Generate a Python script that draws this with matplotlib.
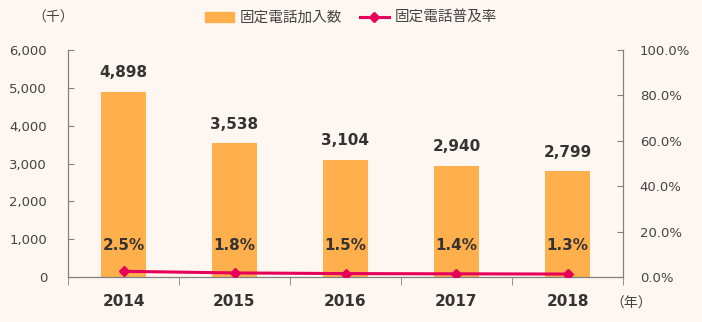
import numpy as np
import matplotlib.pyplot as plt
from matplotlib.lines import Line2D
from matplotlib.patches import Patch

plt.rcParams['font.family'] = ['DejaVu Sans', 'Noto Sans CJK JP']

# 固定電話加入数（千）と普及率（%）
years = ['2014', '2015', '2016', '2017', '2018']
subscribers = [4898, 3538, 3104, 2940, 2799]
rate = [2.5, 1.8, 1.5, 1.4, 1.3]

bg = '#fdf6f1'
bar_color = '#ffaf4b'
line_color = '#e6005a'
text_color = '#333333'
axis_color = '#808080'
jp = ['Noto Sans CJK JP', 'DejaVu Sans']

fig = plt.figure(figsize=(7.02, 3.22), dpi=100, facecolor=bg)
ax = fig.add_axes([68 / 702, 45 / 322, 555 / 702, 227 / 322])
ax.set_facecolor(bg)
x = np.arange(len(years))

ax.bar(x, subscribers, width=0.4, color=bar_color, zorder=2)
ax.set_xlim(-0.5, len(years) - 0.5)
ax.set_ylim(0, 6000)
ax.set_yticks(np.arange(0, 6001, 1000))
ax.set_yticklabels([f'{v:,}' for v in range(0, 6001, 1000)])

# 棒の上に加入数
for xi, v in zip(x, subscribers):
    ax.text(xi, v + 300, f'{v:,}', ha='center', va='bottom',
            fontsize=11, fontweight='bold', color=text_color)

ax2 = ax.twinx()
ax2.plot(x, rate, color=line_color, lw=2.2, marker='D', ms=5, zorder=3)
ax2.set_ylim(0, 100)
ax2.set_yticks(np.arange(0, 101, 20))
ax2.set_yticklabels([f'{v:.1f}%' for v in range(0, 101, 20)])

# 普及率のラベル
for xi, r in zip(x, rate):
    ax.text(xi, 830, f'{r}%', ha='center', va='center',
            fontsize=11, fontweight='bold', color=text_color, zorder=4)

# 年ラベルと区切り目盛り
ax.set_xticks(x)
ax.set_xticklabels(years, fontsize=11, fontweight='bold', color=text_color)
ax.set_xticks(np.arange(-0.5, len(years), 1), minor=True)
ax.tick_params(axis='x', which='major', length=0, pad=12)
ax.tick_params(axis='x', which='minor', length=6, direction='out', color=axis_color)
ax.tick_params(axis='y', direction='in', length=4, color=axis_color,
               labelsize=9.5, labelcolor='#444444', pad=15)
ax2.tick_params(axis='y', direction='in', length=4, color=axis_color,
                labelsize=9.5, labelcolor='#444444', pad=12)

for a in (ax, ax2):
    a.spines['top'].set_visible(False)
    for s in ('left', 'right', 'bottom'):
        a.spines[s].set_color(axis_color)

fig.text(53 / 702, 1 - 18 / 322, '（千）', ha='center', va='center',
         fontsize=10, color='#444444', family=jp)
fig.text(631 / 702, 1 - 304 / 322, '（年）', ha='center', va='center',
         fontsize=10, color='#444444', family=jp)

handles = [Patch(color=bar_color),
           Line2D([0], [0], color=line_color, lw=2.2, marker='D', ms=5)]
fig.legend(handles, ['固定電話加入数', '固定電話普及率'], loc='center',
           bbox_to_anchor=(0.5, 1 - 18 / 322), ncol=2, frameon=False,
           prop={'family': jp, 'size': 10.5},
           handlelength=2.0, columnspacing=1.2, handletextpad=0.4,
           labelcolor='#444444')

fig.savefig('out.png', dpi=100, facecolor=bg)
